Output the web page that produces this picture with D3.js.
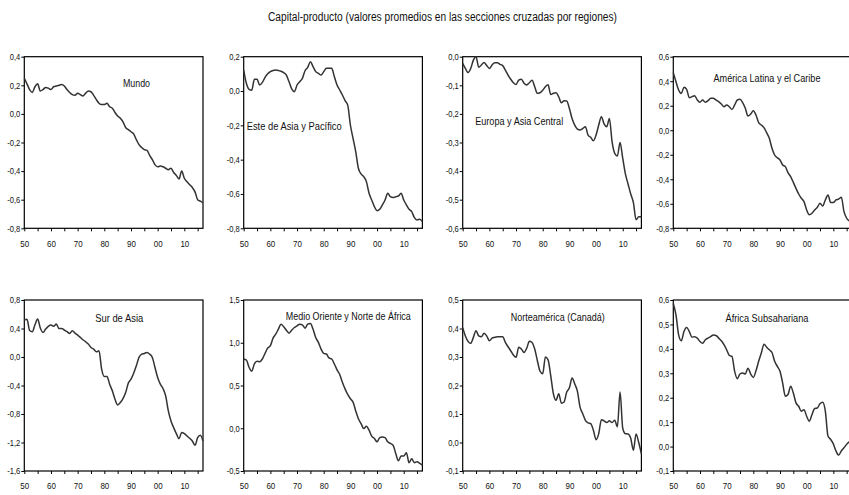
<!DOCTYPE html>
<html>
<head>
<meta charset="utf-8">
<script src="https://cdn.jsdelivr.net/npm/d3@7"></script>
<style>
  html, body { margin: 0; padding: 0; background: #fff; }
  svg { display: block; }
  text { font-family: "Liberation Sans Narrow", "Arial Narrow", "Liberation Sans", Arial, sans-serif; fill: #111; }
</style>
</head>
<body>
<svg id="chart" width="849" height="495"></svg>
<script>
// ---------------- DATA ----------------
const title = "Capital-producto (valores promedios en las secciones cruzadas por regiones)";
const startYear = 1950;
const endYear = 2017;

const regionNames = [
  "Mundo",
  "Este de Asia y Pacífico",
  "Europa y Asia Central",
  "América Latina y el Caribe",
  "Sur de Asia",
  "Medio Oriente y Norte de África",
  "Norteamérica (Canadá)",
  "África Subsahariana"
];

const mundo = [0.25,0.21,0.17,0.15,0.19,0.21,0.16,0.17,0.185,0.18,
  0.17,0.19,0.195,0.20,0.205,0.195,0.17,0.15,0.135,0.13,
  0.145,0.135,0.125,0.145,0.16,0.155,0.13,0.10,0.075,0.065,
  0.065,0.075,0.05,0.04,0.01,-0.015,-0.03,-0.055,-0.095,-0.11,
  -0.125,-0.14,-0.18,-0.215,-0.235,-0.25,-0.255,-0.29,-0.32,-0.355,
  -0.37,-0.365,-0.37,-0.38,-0.39,-0.38,-0.41,-0.43,-0.455,-0.40,
  -0.45,-0.475,-0.495,-0.515,-0.545,-0.60,-0.61,-0.62];

const esteAsia = [0.122,0.045,0.01,0.005,0.068,0.068,0.035,0.05,0.08,0.10,
  0.113,0.12,0.122,0.12,0.115,0.107,0.093,0.054,0.012,-0.004,
  0.035,0.054,0.074,0.118,0.138,0.171,0.142,0.113,0.103,0.093,
  0.113,0.132,0.132,0.132,0.083,0.035,0.006,-0.023,-0.056,-0.082,
  -0.198,-0.276,-0.353,-0.45,-0.483,-0.499,-0.528,-0.596,-0.635,-0.674,
  -0.697,-0.689,-0.664,-0.635,-0.596,-0.616,-0.621,-0.616,-0.612,-0.596,
  -0.635,-0.664,-0.689,-0.703,-0.738,-0.751,-0.747,-0.761];

const europa = [-0.023,-0.041,-0.055,-0.041,-0.012,0.0,-0.037,-0.029,-0.02,-0.031,
  -0.041,-0.029,-0.021,-0.021,-0.027,-0.031,-0.047,-0.064,-0.079,-0.091,
  -0.097,-0.082,-0.079,-0.093,-0.099,-0.091,-0.082,-0.105,-0.128,-0.126,
  -0.117,-0.105,-0.098,-0.132,-0.128,-0.126,-0.14,-0.161,-0.154,-0.155,
  -0.181,-0.216,-0.239,-0.253,-0.256,-0.251,-0.245,-0.274,-0.282,-0.294,
  -0.274,-0.239,-0.21,-0.235,-0.245,-0.216,-0.297,-0.338,-0.347,-0.30,
  -0.355,-0.41,-0.445,-0.48,-0.51,-0.57,-0.56,-0.56];

const latam = [0.47,0.396,0.328,0.30,0.35,0.334,0.266,0.274,0.282,0.247,
  0.228,0.247,0.228,0.241,0.26,0.26,0.247,0.233,0.214,0.192,
  0.206,0.192,0.17,0.206,0.247,0.252,0.225,0.179,0.116,0.132,
  0.16,0.124,0.062,0.043,0.021,-0.02,-0.066,-0.147,-0.202,-0.224,
  -0.243,-0.283,-0.297,-0.346,-0.379,-0.425,-0.474,-0.52,-0.555,-0.582,
  -0.65,-0.69,-0.677,-0.65,-0.628,-0.596,-0.618,-0.569,-0.528,-0.59,
  -0.59,-0.569,-0.561,-0.547,-0.664,-0.718,-0.74,-0.75];

const surAsia = [0.52,0.53,0.373,0.355,0.453,0.533,0.406,0.345,0.392,0.43,
  0.448,0.43,0.462,0.40,0.40,0.378,0.355,0.331,0.369,0.336,
  0.308,0.275,0.242,0.214,0.181,0.134,0.111,0.073,0.087,-0.17,
  -0.274,-0.274,-0.381,-0.475,-0.592,-0.672,-0.639,-0.583,-0.499,-0.367,
  -0.311,-0.227,-0.124,-0.006,0.04,0.05,0.064,0.04,-0.006,-0.147,
  -0.288,-0.381,-0.442,-0.546,-0.756,-0.897,-0.991,-1.075,-1.146,-1.061,
  -1.075,-1.108,-1.141,-1.178,-1.24,-1.132,-1.099,-1.178];

const medioOriente = [0.81,0.798,0.713,0.667,0.752,0.783,0.779,0.81,0.876,0.938,
  0.965,1.054,1.10,1.159,1.217,1.186,1.147,1.112,1.147,1.178,
  1.198,1.217,1.209,1.171,1.217,1.225,1.159,1.062,1.004,0.926,
  0.876,0.868,0.822,0.81,0.752,0.682,0.628,0.539,0.461,0.395,
  0.345,0.306,0.202,0.112,0.054,-0.004,0.023,-0.023,-0.093,-0.12,
  -0.159,-0.109,-0.101,-0.109,-0.159,-0.178,-0.198,-0.295,-0.38,-0.326,
  -0.326,-0.287,-0.403,-0.357,-0.403,-0.391,-0.411,-0.43];

const norteamerica = [0.403,0.374,0.355,0.348,0.369,0.392,0.374,0.371,0.383,0.374,
  0.357,0.366,0.369,0.371,0.371,0.371,0.351,0.336,0.322,0.307,
  0.299,0.334,0.328,0.316,0.331,0.355,0.351,0.328,0.287,0.25,
  0.241,0.30,0.29,0.235,0.171,0.148,0.171,0.138,0.142,0.177,
  0.192,0.226,0.206,0.18,0.124,0.101,0.078,0.069,0.066,0.043,
  0.01,0.031,0.08,0.076,0.07,0.076,0.07,0.078,0.055,0.177,
  0.05,0.031,0.03,0.015,-0.027,0.03,0.0,-0.04];

const africaSub = [0.586,0.539,0.457,0.433,0.471,0.487,0.471,0.448,0.45,0.444,
  0.43,0.423,0.437,0.444,0.45,0.457,0.455,0.444,0.433,0.417,
  0.396,0.373,0.369,0.308,0.278,0.297,0.301,0.297,0.321,0.297,
  0.283,0.31,0.349,0.383,0.419,0.407,0.396,0.385,0.349,0.328,
  0.308,0.26,0.206,0.213,0.247,0.219,0.179,0.165,0.145,0.151,
  0.124,0.104,0.131,0.156,0.158,0.175,0.181,0.145,0.043,0.029,
  0.011,-0.018,-0.035,-0.018,-0.005,0.009,0.02,0.03];

const seriesValues = [mundo, esteAsia, europa, latam, surAsia, medioOriente, norteamerica, africaSub];

// y-axis tick labels per panel
const yTicks = [
  [-0.8,-0.6,-0.4,-0.2,0.0,0.2,0.4],
  [-0.8,-0.6,-0.4,-0.2,0.0,0.2],
  [-0.6,-0.5,-0.4,-0.3,-0.2,-0.1,0.0],
  [-0.8,-0.6,-0.4,-0.2,0.0,0.2,0.4,0.6],
  [-1.6,-1.2,-0.8,-0.4,0.0,0.4,0.8],
  [-0.5,0.0,0.5,1.0,1.5],
  [-0.1,0.0,0.1,0.2,0.3,0.4,0.5],
  [-0.1,0.0,0.1,0.2,0.3,0.4,0.5,0.6]
];
const xTickYears = [1950,1955,1960,1965,1970,1975,1980,1985,1990,1995,2000,2005,2010,2015];
const xLabelYears = [1950,1960,1970,1980,1990,2000,2010];

// ---------------- LAYOUT ----------------
const plotW = 178.7;
const layout = [
  {left: 24.3,  top: 56.7, bottom: 228.3, lx: 136.5, ly: 83,    lw: 27},
  {left: 243.7, top: 56.7, bottom: 228.3, lx: 294.2, ly: 126,   lw: 95},
  {left: 462.7, top: 56.7, bottom: 228.3, lx: 519.2, ly: 121,   lw: 88},
  {left: 673.3, top: 56.7, bottom: 228.3, lx: 767,   ly: 78,    lw: 107},
  {left: 24.3,  top: 300,  bottom: 471,   lx: 119.2, ly: 318,   lw: 48},
  {left: 243.7, top: 300,  bottom: 471,   lx: 348.3, ly: 315.7, lw: 125},
  {left: 462.7, top: 300,  bottom: 471,   lx: 557.8, ly: 317,   lw: 94},
  {left: 673.3, top: 300,  bottom: 471,   lx: 767,   ly: 318,   lw: 83}
];
const tickCondense = 0.84;

const svg = d3.select("#chart");
svg.append("rect").attr("width", 849).attr("height", 495).attr("fill", "#fff");

svg.append("text")
  .attr("x", 442.5).attr("y", 17).attr("dy", "0.35em")
  .attr("text-anchor", "middle")
  .attr("font-size", 12)
  .attr("textLength", 349).attr("lengthAdjust", "spacingAndGlyphs")
  .text(title);

const fmt = v => d3.format(".1f")(v).replace("−", "-").replace(".", ",");
const years = d3.range(startYear, endYear + 1);

function condense(sel) {
  sel.each(function () {
    const w = this.getComputedTextLength();
    if (w > 0) {
      d3.select(this).attr("textLength", w * tickCondense).attr("lengthAdjust", "spacingAndGlyphs");
    }
  });
}

seriesValues.forEach((vals, i) => {
  const L = layout[i];
  const ticks = yTicks[i];
  const x = d3.scaleLinear().domain([startYear, endYear]).range([L.left, L.left + plotW]);
  const y = d3.scaleLinear().domain([d3.min(ticks), d3.max(ticks)]).range([L.bottom, L.top]);
  const g = svg.append("g");

  // y axis
  const ya = g.append("g").attr("transform", `translate(${L.left},0)`)
    .call(d3.axisLeft(y).tickValues(ticks).tickSize(3).tickPadding(1).tickFormat(fmt));
  ya.select(".domain").remove();
  ya.selectAll("text").attr("font-size", 9).attr("font-family", null).attr("fill", "#111").call(condense);
  ya.selectAll("line").attr("stroke", "#000");

  // x axis
  const xa = g.append("g").attr("transform", `translate(0,${L.bottom})`)
    .call(d3.axisBottom(x).tickValues(xTickYears).tickSize(3).tickPadding(8.5)
      .tickFormat(d => xLabelYears.includes(d) ? String(d % 100).padStart(2, "0") : ""));
  xa.select(".domain").remove();
  xa.selectAll("text").attr("font-size", 9.5).attr("font-family", null).attr("fill", "#111").call(condense);
  xa.selectAll("line").attr("stroke", "#000");

  // frame
  g.append("rect")
    .attr("x", L.left).attr("y", L.top)
    .attr("width", plotW).attr("height", L.bottom - L.top)
    .attr("fill", "none").attr("stroke", "#000").attr("stroke-width", 1.2);

  // line
  const line = d3.line()
    .x((d, k) => x(years[k]))
    .y(d => y(d))
    .curve(d3.curveMonotoneX);
  g.append("path").datum(vals)
    .attr("d", line)
    .attr("fill", "none")
    .attr("stroke", "#333")
    .attr("stroke-width", 1.5)
    .attr("stroke-linejoin", "round");

  // region label
  g.append("text")
    .attr("x", L.lx).attr("y", L.ly).attr("dy", "0.35em")
    .attr("text-anchor", "middle")
    .attr("font-size", 11)
    .attr("textLength", L.lw).attr("lengthAdjust", "spacingAndGlyphs")
    .text(regionNames[i]);
});
</script>
</body>
</html>
